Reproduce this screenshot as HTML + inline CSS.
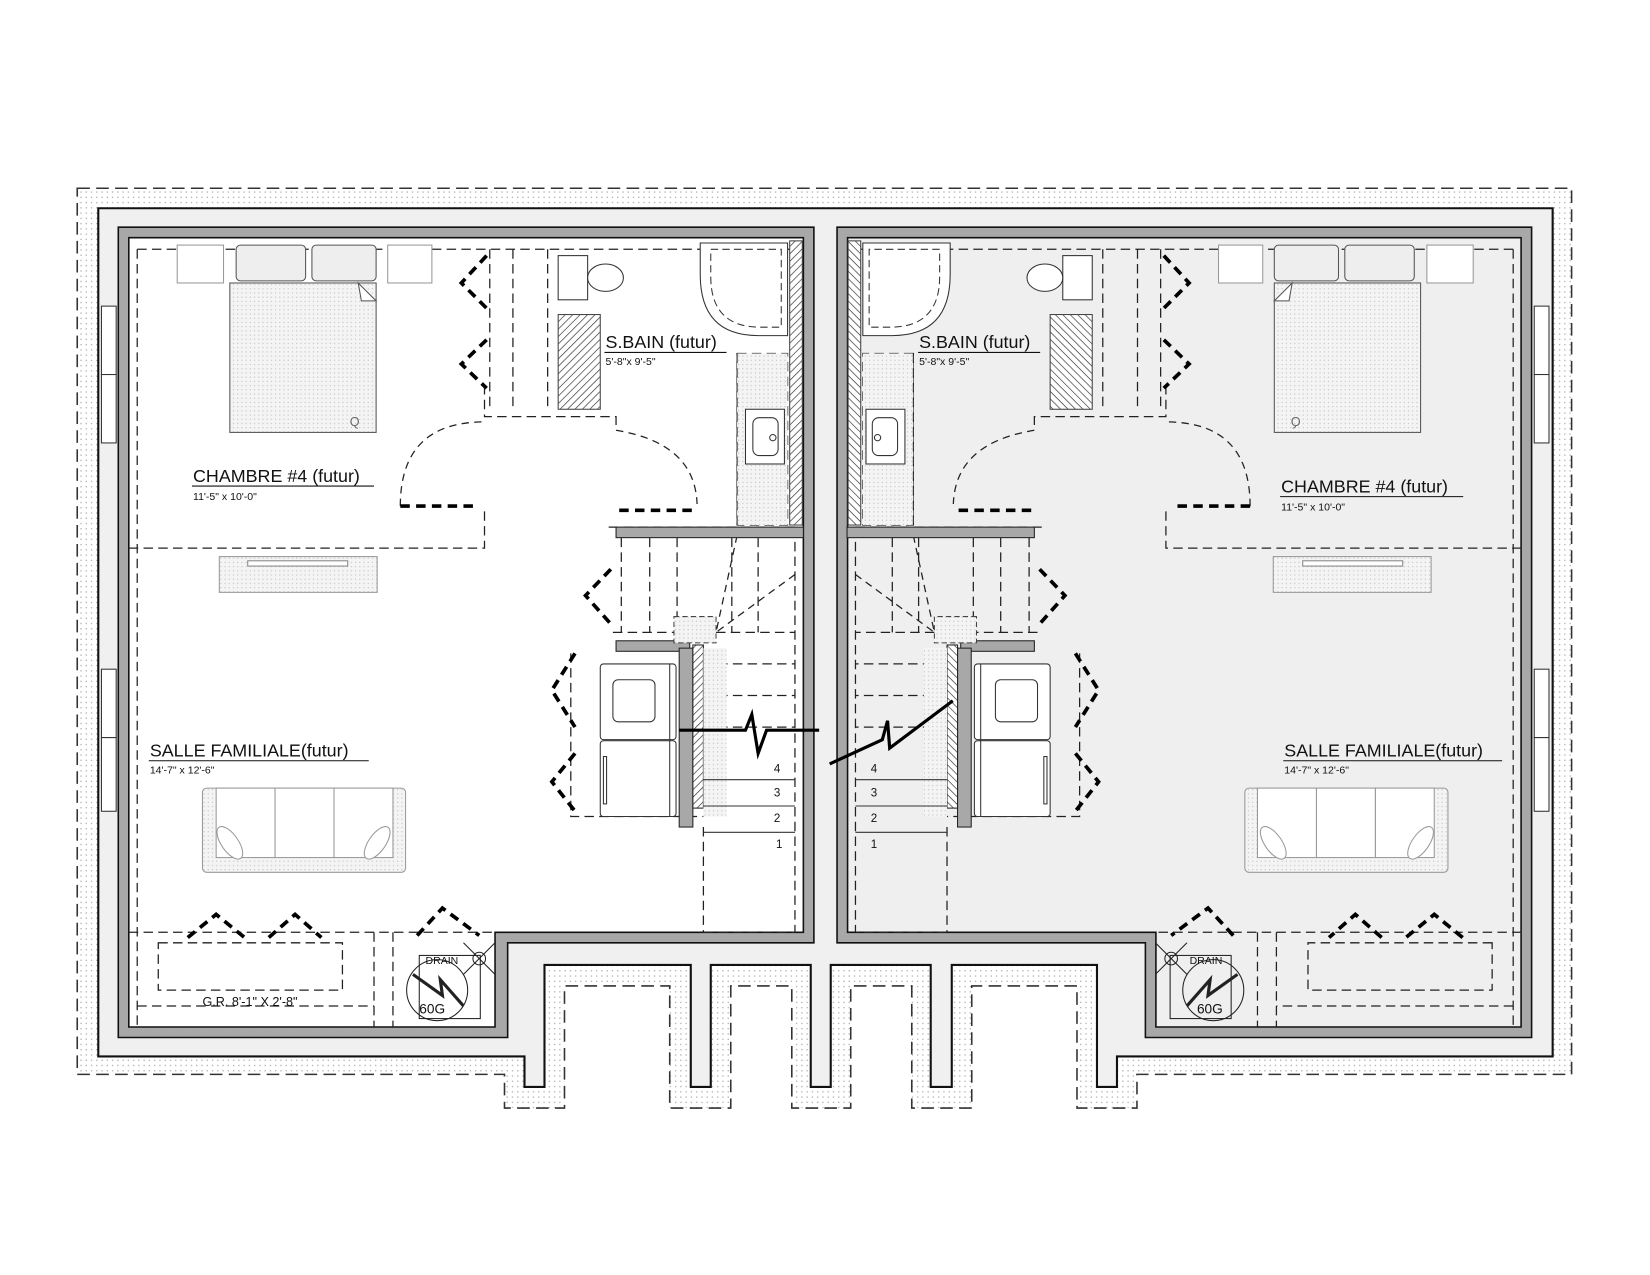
<!DOCTYPE html>
<html><head><meta charset="utf-8"><style>
html,body{margin:0;padding:0;background:#fff;}
svg{display:block;font-family:"Liberation Sans",Arial,sans-serif;}
</style></head><body>
<svg width="1650" height="1275" viewBox="0 0 1560 1205.5" xmlns="http://www.w3.org/2000/svg">
<defs>
<pattern id="dots" width="5" height="5" patternUnits="userSpaceOnUse"><rect width="5" height="5" fill="#fff"/><rect x="1" y="1" width="1.2" height="1.2" fill="#aaa"/></pattern>
<pattern id="dots2" width="4" height="4" patternUnits="userSpaceOnUse"><rect width="4" height="4" fill="#f4f4f4"/><rect x="1" y="1" width="1" height="1" fill="#bbb"/></pattern>
<pattern id="hatch" width="5" height="5" patternUnits="userSpaceOnUse" patternTransform="rotate(45)"><rect width="5" height="5" fill="#fff"/><line x1="0" y1="0" x2="0" y2="5" stroke="#333" stroke-width="1.3"/></pattern>
<g id="unit">
  <g fill="none" stroke="#222" stroke-width="1.2" stroke-dasharray="9,5">
    <path d="M130,236 H755"/>
    <path d="M130,236 V975"/>
    <path d="M122,520 H460 V482"/>
    <path d="M460,365 V395 H585 V408"/>
    <path d="M465,236 V388 M487,236 V388 M520,236 V388"/>
    <path d="M578,500 H755"/>
    <path d="M590,510 V600 M617,510 V600 M643,510 V600 M695,510 V600 M720,510 V600"/>
    <path d="M582,600 H755 M668,630 H755 M668,660 H755 M668,690 H755"/>
    <path d="M542,620 V775 H668 M668,785 V885 M755,500 V885 M668,885 H755"/>
    <path d="M122,885 H470 M150,895 H325 V940 H150 Z M130,955 H355 M130,975 H465 M355,885 V975 M373,885 V975"/>
    <path d="M700,335 H748 V498 H700 Z"/>
    <path d="M380,480 Q380,400 460,400 M585,408 Q660,420 662,478" stroke-dasharray="7,5"/>
    <path d="M700,508 L680,600 M755,545 L680,600" stroke-dasharray="7,5"/>
  </g>
  <rect x="700" y="335" width="48" height="163" fill="url(#dots2)" stroke="none"/>
  <path d="M700,335 V498" stroke="#222" stroke-dasharray="9,5" fill="none"/>
  <rect x="750" y="228" width="12" height="270" fill="url(#hatch)" stroke="#444"/>
  <rect x="585" y="500" width="178" height="10" fill="#a8a8a8" stroke="#222"/>
  <rect x="585" y="608" width="70" height="10" fill="#a8a8a8" stroke="#222"/>
  <rect x="645" y="615" width="13" height="170" fill="#a8a8a8" stroke="#222"/>
  <rect x="658" y="612" width="10" height="155" fill="url(#hatch)" stroke="#222"/>
  <rect x="640" y="585" width="40" height="25" fill="url(#dots2)" stroke="#444" stroke-dasharray="5,3"/>
  <rect x="668" y="615" width="22" height="160" fill="url(#dots2)" stroke="none"/>
  <g stroke="#333" stroke-width="1">
    <line x1="668" y1="740" x2="755" y2="740"/><line x1="668" y1="765" x2="755" y2="765"/><line x1="668" y1="790" x2="755" y2="790"/>
  </g>
  <g fill="#fff" stroke="#333" stroke-width="1">
    <rect x="570" y="630" width="72" height="72" rx="3"/><rect x="582" y="645" width="40" height="40" rx="5"/>
    <rect x="570" y="703" width="72" height="72" rx="3"/><line x1="636" y1="630" x2="636" y2="775"/><rect x="573" y="718" width="3" height="45"/>
  </g>
  <g stroke="#555" stroke-width="1">
    <rect x="168" y="232" width="44" height="36" fill="#fff" stroke="#999"/>
    <rect x="368" y="232" width="42" height="36" fill="#fff" stroke="#999"/>
    <rect x="218" y="268" width="139" height="142" fill="url(#dots2)"/>
    <rect x="224" y="232" width="66" height="34" rx="4" fill="#eee"/>
    <rect x="296" y="232" width="61" height="34" rx="4" fill="#eee"/>
    <path d="M340,268 L357,285 L343,285 Z" fill="#fff"/>
    <text x="332" y="404" font-size="12" fill="#666" stroke="none">Q</text>
  </g>
  <g fill="#fff" stroke="#333" stroke-width="1">
    <rect x="530" y="242" width="28" height="42"/>
    <ellipse cx="575" cy="263" rx="17" ry="13"/>
    <rect x="530" y="298" width="40" height="90" fill="url(#hatch)" stroke="#444"/>
    <path d="M665,230 H748 V318 H720 Q665,318 665,260 Z"/>
    <path d="M675,236 H742 V310 H722 Q675,310 675,262 Z" stroke-dasharray="7,4"/>
    <rect x="708" y="388" width="37" height="52"/>
    <rect x="715" y="396" width="24" height="36" rx="6"/>
    <circle cx="734" cy="415" r="3"/>
  </g>
  <g fill="none" stroke="#000" stroke-width="3.5" stroke-dasharray="9,6">
    <path d="M462,242 L438,268 L462,292"/>
    <path d="M462,322 L438,345 L462,368"/>
    <path d="M380,480 H450 M588,484 H660"/>
    <path d="M580,540 L556,565 L580,592"/>
    <path d="M546,620 L524,655 L546,690"/>
    <path d="M546,715 L524,742 L546,770"/>
    <path d="M178,890 L205,868 L232,890 M255,890 L280,868 L305,890"/>
    <path d="M396,888 L420,862 L455,888"/>
  </g>
  <rect x="208" y="528" width="150" height="34" fill="url(#dots2)" stroke="#999"/>
  <rect x="235" y="532" width="95" height="5" fill="#fff" stroke="#888"/>
  <g stroke="#999" fill="#fff">
    <rect x="192" y="748" width="193" height="80" rx="4" fill="url(#dots2)"/>
    <rect x="205" y="748" width="56" height="66"/><rect x="261" y="748" width="56" height="66"/><rect x="317" y="748" width="56" height="66"/>
    <ellipse cx="218" cy="800" rx="8" ry="18" transform="rotate(-35 218 800)"/>
    <ellipse cx="358" cy="800" rx="8" ry="18" transform="rotate(35 358 800)"/>
  </g>
  <g fill="none" stroke="#222" stroke-width="1">
    <rect x="398" y="907" width="58" height="60"/>
    <circle cx="415" cy="940" r="29" fill="none"/>
    <circle cx="455" cy="910" r="6"/>
    <path d="M440,895 L470,925 M440,925 L470,895"/>
    <path d="M392,925 L420,945 L418,930 L440,955" stroke-width="3"/>
  </g>
  <g fill="#fff" stroke="#333" stroke-width="1">
    <rect x="96" y="290" width="14" height="65"/><rect x="96" y="355" width="14" height="65"/>
    <rect x="96" y="635" width="14" height="65"/><rect x="96" y="700" width="14" height="70"/>
  </g>
</g>
</defs>

<g transform="translate(73,178) scale(0.995) translate(-73,-178)">
<path d="M73,178 H1493 V1020 H1080 V1052 H1023 V936 H923 V1052 H866 V936 H808 V1052 H752 V936 H694 V1052 H636 V936 H536 V1052 H479 V1020 H73 Z" fill="url(#dots)" stroke="#333" stroke-width="1.5" stroke-dasharray="12,6"/>
<path d="M93,197 H1475 V1003 H1061 V1032 H1042 V916 H904 V1032 H884 V916 H789 V1032 H770 V916 H675 V1032 H656 V916 H517 V1032 H498 V1003 H93 Z" fill="#f0f0f0" stroke="#111" stroke-width="2"/>
<path d="M112,215 H773 V895 H482 V985 H112 Z" fill="#a8a8a8" stroke="#111" stroke-width="1.5"/>
<path d="M122,225 H763 V885 H470 V975 H122 Z" fill="#fff" stroke="#111" stroke-width="1.5"/>
<path d="M795,215 H1455 V985 H1088 V895 H795 Z" fill="#a8a8a8" stroke="#111" stroke-width="1.5"/>
<path d="M805,225 H1445 V975 H1098 V885 H805 Z" fill="#efefef" stroke="#111" stroke-width="1.5"/>

<use href="#unit"/>
<use href="#unit" transform="matrix(-1 0 0 1 1567.5 0)"/>

<path d="M645,693 H708 L714,678 L720,715 L728,693 H778" fill="none" stroke="#000" stroke-width="3"/>
<path d="M788,725 L838,702 L843,684 L845,710 L905,665" fill="none" stroke="#000" stroke-width="3"/>

<g fill="#111">
  <text x="575" y="330" font-size="17">S.BAIN (futur)</text><line x1="574" y1="334" x2="690" y2="334" stroke="#111"/>
  <text x="575" y="346" font-size="10">5'-8"x 9'-5"</text>
  <text x="873" y="330" font-size="17">S.BAIN (futur)</text><line x1="872" y1="334" x2="988" y2="334" stroke="#111"/>
  <text x="873" y="346" font-size="10">5'-8"x 9'-5"</text>
  <text x="183" y="457" font-size="17">CHAMBRE #4 (futur)</text><line x1="182" y1="461" x2="355" y2="461" stroke="#111"/>
  <text x="183" y="474" font-size="10">11'-5" x 10'-0"</text>
  <text x="1217" y="467" font-size="17">CHAMBRE #4 (futur)</text><line x1="1216" y1="471" x2="1390" y2="471" stroke="#111"/>
  <text x="1217" y="484" font-size="10">11'-5" x 10'-0"</text>
  <text x="142" y="718" font-size="17">SALLE FAMILIALE(futur)</text><line x1="141" y1="722" x2="350" y2="722" stroke="#111"/>
  <text x="142" y="734" font-size="10">14'-7" x 12'-6"</text>
  <text x="1220" y="718" font-size="17">SALLE FAMILIALE(futur)</text><line x1="1219" y1="722" x2="1427" y2="722" stroke="#111"/>
  <text x="1220" y="734" font-size="10">14'-7" x 12'-6"</text>
  <text x="192" y="955" font-size="12">G.R. 8'-1" X 2'-8"</text>
  <text x="404" y="915" font-size="10">DRAIN</text><text x="398" y="962" font-size="13">60G</text>
  <text x="1130" y="915" font-size="10">DRAIN</text><text x="1137" y="962" font-size="13">60G</text>
  <g font-size="11"><text x="735" y="733">4</text><text x="735" y="756">3</text><text x="735" y="780">2</text><text x="737" y="805">1</text>
  <text x="827" y="733">4</text><text x="827" y="756">3</text><text x="827" y="780">2</text><text x="827" y="805">1</text></g>
</g>
</g>
</svg>
</body></html>
